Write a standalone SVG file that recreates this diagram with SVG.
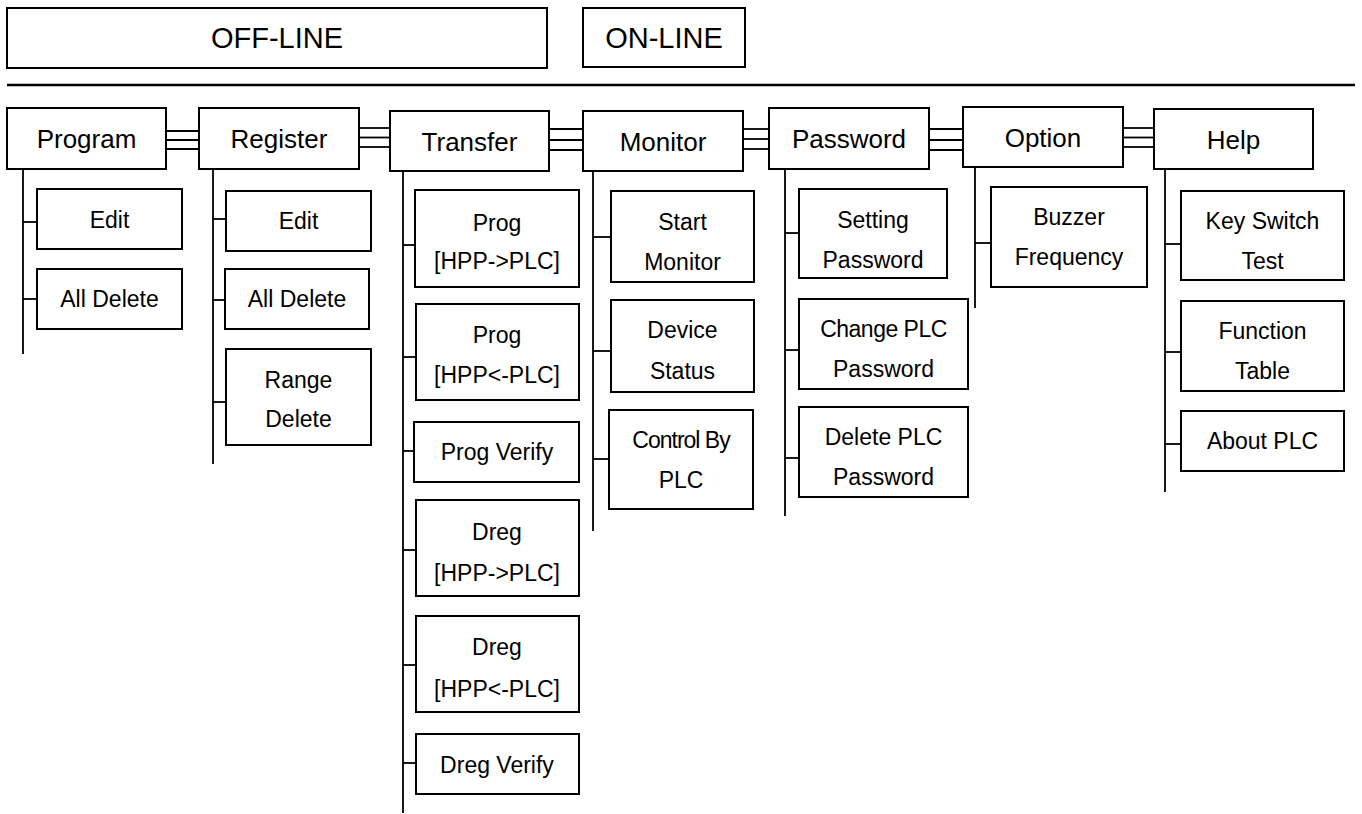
<svg xmlns="http://www.w3.org/2000/svg" width="1362" height="814" viewBox="0 0 1362 814">
<style>
rect{fill:#fff;stroke:#000;stroke-width:2}
line{stroke:#000;stroke-width:2}
.c line{stroke-width:1.8}
text{font-family:"Liberation Sans",Arial,sans-serif;fill:#000;text-anchor:middle}
.h{font-size:29px}
.m{font-size:26px}
.s{font-size:23px}
</style>
<rect width="1362" height="814" style="fill:#fff;stroke:none"/>
<g id="offline"><rect x="7" y="8" width="540" height="60"/><text class="h" x="277" y="48">OFF-LINE</text></g>
<g id="online"><rect x="583" y="8" width="162" height="59"/><text class="h" x="664" y="48">ON-LINE</text></g>
<line x1="7" y1="85" x2="1355" y2="85" style="stroke-width:2.5"/>

<g class="c" id="connectors">
<!-- menu links -->
<line x1="166" y1="131" x2="199" y2="131"/><line x1="166" y1="140" x2="199" y2="140"/><line x1="166" y1="149" x2="199" y2="149"/>
<line x1="359" y1="128" x2="390" y2="128"/><line x1="359" y1="137.5" x2="390" y2="137.5"/><line x1="359" y1="147" x2="390" y2="147"/>
<line x1="549" y1="129" x2="583" y2="129"/><line x1="549" y1="140" x2="583" y2="140"/><line x1="549" y1="150" x2="583" y2="150"/>
<line x1="743" y1="129" x2="769" y2="129"/><line x1="743" y1="139" x2="769" y2="139"/><line x1="743" y1="149" x2="769" y2="149"/>
<line x1="929" y1="129" x2="963" y2="129"/><line x1="929" y1="140" x2="963" y2="140"/><line x1="929" y1="150" x2="963" y2="150"/>
<line x1="1123" y1="128" x2="1154" y2="128"/><line x1="1123" y1="137.5" x2="1154" y2="137.5"/><line x1="1123" y1="147" x2="1154" y2="147"/>
<!-- Program -->
<line x1="23" y1="169" x2="23" y2="354"/>
<line x1="23" y1="222" x2="37" y2="222"/><line x1="23" y1="299" x2="37" y2="299"/>
<!-- Register -->
<line x1="213" y1="169" x2="213" y2="464"/>
<line x1="213" y1="219" x2="226" y2="219"/><line x1="213" y1="300" x2="225" y2="300"/><line x1="213" y1="402" x2="226" y2="402"/>
<!-- Transfer -->
<line x1="403" y1="171" x2="403" y2="813"/>
<line x1="403" y1="245" x2="415" y2="245"/><line x1="403" y1="357" x2="416" y2="357"/><line x1="403" y1="451" x2="414" y2="451"/>
<line x1="403" y1="550" x2="416" y2="550"/><line x1="403" y1="665" x2="416" y2="665"/><line x1="403" y1="763" x2="416" y2="763"/>
<!-- Monitor -->
<line x1="593" y1="171" x2="593" y2="531"/>
<line x1="593" y1="237" x2="611" y2="237"/><line x1="593" y1="351" x2="611" y2="351"/><line x1="593" y1="459" x2="609" y2="459"/>
<!-- Password -->
<line x1="785" y1="169" x2="785" y2="516"/>
<line x1="785" y1="233" x2="799" y2="233"/><line x1="785" y1="350" x2="799" y2="350"/><line x1="785" y1="458" x2="799" y2="458"/>
<!-- Option -->
<line x1="975" y1="167" x2="975" y2="308"/>
<line x1="975" y1="243" x2="991" y2="243"/>
<!-- Help -->
<line x1="1165" y1="169" x2="1165" y2="492"/>
<line x1="1165" y1="244" x2="1181" y2="244"/><line x1="1165" y1="352" x2="1181" y2="352"/><line x1="1165" y1="444" x2="1181" y2="444"/>
</g>

<g id="program"><rect x="7" y="108" width="159" height="61"/><text class="m" x="86.5" y="148">Program</text></g>
<g id="register"><rect x="199" y="108" width="160" height="61"/><text class="m" x="279" y="148">Register</text></g>
<g id="transfer"><rect x="390" y="111" width="159" height="60"/><text class="m" x="469.5" y="151">Transfer</text></g>
<g id="monitor"><rect x="583" y="111" width="160" height="60"/><text class="m" x="663" y="151">Monitor</text></g>
<g id="password"><rect x="769" y="108" width="160" height="61"/><text class="m" x="849" y="148">Password</text></g>
<g id="option"><rect x="963" y="107" width="160" height="60"/><text class="m" x="1043" y="147">Option</text></g>
<g id="help"><rect x="1154" y="109" width="159" height="60"/><text class="m" x="1233.5" y="149">Help</text></g>

<g id="prog-edit"><rect x="37" y="189" width="145" height="60"/><text class="s" x="109.5" y="228">Edit</text></g>
<g id="prog-alldelete"><rect x="37" y="269" width="145" height="60"/><text class="s" x="109.5" y="307">All Delete</text></g>

<g id="reg-edit"><rect x="226" y="191" width="145" height="60"/><text class="s" x="298.5" y="229">Edit</text></g>
<g id="reg-alldelete"><rect x="225" y="269" width="144" height="60"/><text class="s" x="297" y="307">All Delete</text></g>
<g id="reg-rangedelete"><rect x="226" y="349" width="145" height="96"/><text class="s" x="298.5" y="388">Range</text><text class="s" x="298.5" y="427">Delete</text></g>

<g id="tr-prog-to"><rect x="415" y="190" width="164" height="97"/><text class="s" x="497" y="231">Prog</text><text class="s" x="497" y="269">[HPP-&gt;PLC]</text></g>
<g id="tr-prog-from"><rect x="416" y="304" width="163" height="96"/><text class="s" x="497" y="343">Prog</text><text class="s" x="497" y="383">[HPP&lt;-PLC]</text></g>
<g id="tr-prog-verify"><rect x="414" y="422" width="165" height="60"/><text class="s" x="497" y="460">Prog Verify</text></g>
<g id="tr-dreg-to"><rect x="416" y="500" width="163" height="96"/><text class="s" x="497" y="540">Dreg</text><text class="s" x="497" y="581">[HPP-&gt;PLC]</text></g>
<g id="tr-dreg-from"><rect x="416" y="616" width="163" height="96"/><text class="s" x="497" y="655">Dreg</text><text class="s" x="497" y="697">[HPP&lt;-PLC]</text></g>
<g id="tr-dreg-verify"><rect x="416" y="734" width="163" height="60"/><text class="s" x="497" y="773">Dreg Verify</text></g>

<g id="mon-start"><rect x="611" y="191" width="143" height="91"/><text class="s" x="682.5" y="230">Start</text><text class="s" x="682.5" y="270">Monitor</text></g>
<g id="mon-device"><rect x="611" y="300" width="143" height="92"/><text class="s" x="682.5" y="338">Device</text><text class="s" x="682.5" y="379">Status</text></g>
<g id="mon-control"><rect x="609" y="410" width="144" height="99"/><text class="s" x="681" y="448" style="letter-spacing:-1px">Control By</text><text class="s" x="681" y="488">PLC</text></g>

<g id="pw-setting"><rect x="799" y="189" width="148" height="89"/><text class="s" x="873" y="228">Setting</text><text class="s" x="873" y="268">Password</text></g>
<g id="pw-change"><rect x="799" y="299" width="169" height="90"/><text class="s" x="883.5" y="337" style="letter-spacing:-0.5px">Change PLC</text><text class="s" x="883.5" y="377">Password</text></g>
<g id="pw-delete"><rect x="799" y="407" width="169" height="90"/><text class="s" x="883.5" y="445">Delete PLC</text><text class="s" x="883.5" y="485">Password</text></g>

<g id="opt-buzzer"><rect x="991" y="187" width="156" height="100"/><text class="s" x="1069" y="225">Buzzer</text><text class="s" x="1069" y="265">Frequency</text></g>

<g id="help-keyswitch"><rect x="1181" y="191" width="163" height="89"/><text class="s" x="1262.5" y="229">Key Switch</text><text class="s" x="1262.5" y="269">Test</text></g>
<g id="help-function"><rect x="1181" y="301" width="163" height="90"/><text class="s" x="1262.5" y="339">Function</text><text class="s" x="1262.5" y="379">Table</text></g>
<g id="help-about"><rect x="1181" y="411" width="163" height="60"/><text class="s" x="1262.5" y="449">About PLC</text></g>
</svg>
